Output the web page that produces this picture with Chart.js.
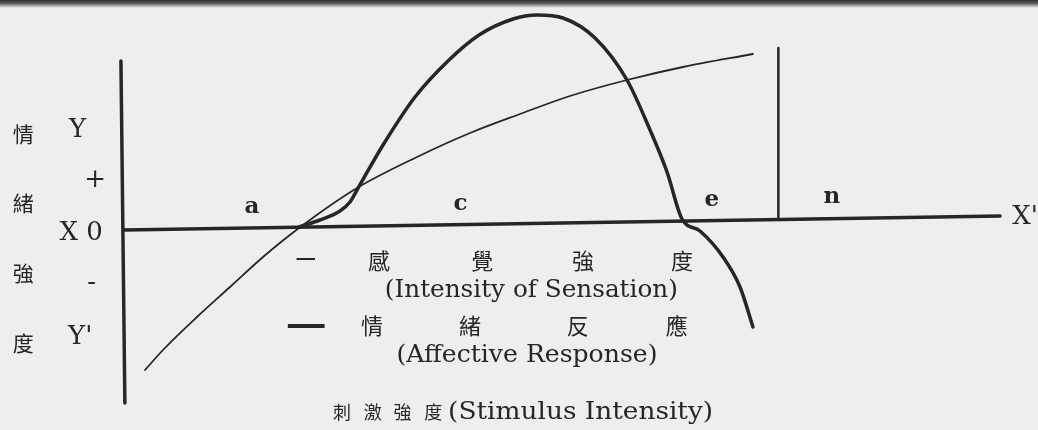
<!DOCTYPE html>
<html lang="zh-Hant">
<head>
<meta charset="UTF-8">
<title>感覺強度與情緒反應</title>
<script src="https://cdn.jsdelivr.net/npm/chart.js"></script>
<style>
  html, body { margin: 0; padding: 0; background: #efeeec; }
  #wrap {
    position: relative; width: 1038px; height: 430px; overflow: hidden;
    background: linear-gradient(to bottom, #2e2e2e 0px, #555 3px, rgba(239,238,236,0) 8px), #efeeec;
  }
</style>
</head>
<body>
<div id="wrap"><canvas id="chart"></canvas></div>
<script>
// stimulus intensity (x, 0..100) against response (y, 0 = neutral)
const sensationX = [2.4, 4.45, 8.33, 12.1, 15.87, 19.98, 26.6, 33.45, 39.5, 45.21, 50.91, 57.42, 63.81, 71.8];
const sensationY = [-14.1, -12.1, -8.8, -5.8, -2.8, 0.1, 4.1, 7.2, 9.6, 11.5, 13.3, 14.9, 16.2, 17.5];

const affectX = [19.98, 22.37, 24.66, 25.8, 26.6, 29.57, 33.22, 37.1, 40.53, 44.41, 47.15, 50.11, 53.77, 57.42, 60.05, 61.99, 63.7, 65.75, 68.38, 70.32, 71.8];
const affectY = [0.2, 0.9, 1.8, 2.7, 3.9, 8.4, 13.2, 16.9, 19.4, 21.0, 21.4, 21.1, 19.1, 14.9, 9.9, 5.7, 1.0, -0.2, -2.8, -5.8, -9.8];

// axes of the scanned figure (slightly skewed on the page)
const baseX = [0, 100];
const baseY = [-0.1, 1.3];
const upX = [-0.35, 0.1];
const upY = [16.8, -17.4];
// boundary line between regions e and n
const limitX = [74.7, 74.7];
const limitY = [1.1, 18.1];

// labels
const sideText = ['情', '緒', '強', '度'];
const sideTextY = [9.5, 2.6, -4.4, -11.4];
const axisText = ['Y', '+', 'X 0', '-', "Y'"];
const axisTextX = [-5.3, -3.3, -4.9, -3.7, -5.0];
const axisTextY = [9.9, 4.9, -0.4, -5.4, -10.8];
const regionText = ['a', 'c', 'e', 'n'];
const regionX = [14.6, 38.4, 67.1, 80.8];
const regionY = [2.2, 2.5, 2.9, 3.2];

const sensationChars = ['感', '覺', '強', '度'];
const sensationCharsX = [29.1, 40.9, 52.4, 63.7];
const affectChars = ['情', '緒', '反', '應'];
const affectCharsX = [28.3, 39.5, 51.8, 63.1];
const sensationName = '(Intensity of Sensation)';
const affectName = '(Affective Response)';

const titleChars = ['刺', '激', '強', '度'];
const titleCharsX = [24.9, 28.4, 31.8, 35.3];
const titleName = '(Stimulus Intensity)';

const INK = '#262626';
const SERIF = '"DejaVu Serif", "Liberation Serif", serif';
const CJK = '"Noto Sans CJK TC", "Noto Sans CJK JP", sans-serif';

function pts(xs, ys) {
    return xs.map((x, i) => ({ x: x, y: ys[i] }));
}

const texts = [];
sideText.forEach((t, i) => texts.push({ text: t, x: -11.5, y: sideTextY[i], font: '21px ' + CJK }));
axisText.forEach((t, i) => texts.push({ text: t, x: axisTextX[i], y: axisTextY[i], font: '26px ' + SERIF }));
regionText.forEach((t, i) => texts.push({ text: t, x: regionX[i], y: regionY[i], font: 'bold 23px ' + SERIF }));
texts.push({ text: "X'", x: 101.4, y: 1.2, font: '26px ' + SERIF, align: 'left' });
sensationChars.forEach((t, i) => texts.push({ text: t, x: sensationCharsX[i], y: -3.2, font: '22px ' + CJK }));
affectChars.forEach((t, i) => texts.push({ text: t, x: affectCharsX[i], y: -9.7, font: '22px ' + CJK }));
texts.push({ text: sensationName, x: 46.5, y: -6.1, font: '25px ' + SERIF, w: 293 });
texts.push({ text: affectName, x: 46.0, y: -12.6, font: '25px ' + SERIF, w: 261 });
titleChars.forEach((t, i) => texts.push({ text: t, x: titleCharsX[i], y: -18.3, font: '18px ' + CJK }));
texts.push({ text: titleName, x: 37.0, y: -18.3, font: '25px ' + SERIF, w: 265, align: 'left' });

const figureText = {
    id: 'figureText',
    afterDatasetsDraw(chart) {
        const ctx = chart.ctx;
        const sx = chart.scales.x, sy = chart.scales.y;
        ctx.save();
        ctx.fillStyle = INK;
        ctx.strokeStyle = INK;
        ctx.textBaseline = 'middle';
        texts.forEach(t => {
            ctx.font = t.font;
            ctx.textAlign = t.align || 'center';
            const px = sx.getPixelForValue(t.x), py = sy.getPixelForValue(t.y);
            if (t.w) {
                const m = ctx.measureText(t.text).width;
                ctx.save();
                ctx.translate(px, py);
                ctx.scale(t.w / m, 1);
                ctx.fillText(t.text, 0, 0);
                ctx.restore();
            } else {
                ctx.fillText(t.text, px, py);
            }
        });
        // legend swatches: thin line = sensation, thick line = affect
        ctx.lineWidth = 2;
        ctx.beginPath();
        ctx.moveTo(sx.getPixelForValue(19.7), sy.getPixelForValue(-3.0));
        ctx.lineTo(sx.getPixelForValue(21.8), sy.getPixelForValue(-3.0));
        ctx.stroke();
        ctx.lineWidth = 4;
        ctx.beginPath();
        ctx.moveTo(sx.getPixelForValue(18.7), sy.getPixelForValue(-9.7));
        ctx.lineTo(sx.getPixelForValue(22.9), sy.getPixelForValue(-9.7));
        ctx.stroke();
        ctx.restore();
    }
};

const line = (label, data, width, smooth) => ({
    label: label,
    data: data,
    borderColor: INK,
    borderWidth: width,
    pointRadius: 0,
    cubicInterpolationMode: smooth ? 'monotone' : 'default',
    tension: 0,
    fill: false,
    clip: false,
    borderCapStyle: 'round',
    borderJoinStyle: 'round'
});

new Chart(document.getElementById('chart'), {
    type: 'line',
    data: {
        datasets: [
            line('X axis', pts(baseX, baseY), 3.5, false),
            line('Y axis', pts(upX, upY), 3.5, false),
            line('limit', pts(limitX, limitY), 2.5, false),
            line('感覺強度 (Intensity of Sensation)', pts(sensationX, sensationY), 1.8, true),
            line('情緒反應 (Affective Response)', pts(affectX, affectY), 3.5, true)
        ]
    },
    options: {
        responsive: true,
        maintainAspectRatio: false,
        animation: false,
        events: [],
        layout: { padding: { left: 124, right: 38, top: 10, bottom: 25 } },
        scales: {
            x: { type: 'linear', min: 0, max: 100, display: false },
            y: { type: 'linear', min: -17.6, max: 21.9, display: false }
        },
        plugins: { legend: { display: false }, tooltip: { enabled: false } }
    },
    plugins: [figureText]
});
</script>
</body>
</html>
